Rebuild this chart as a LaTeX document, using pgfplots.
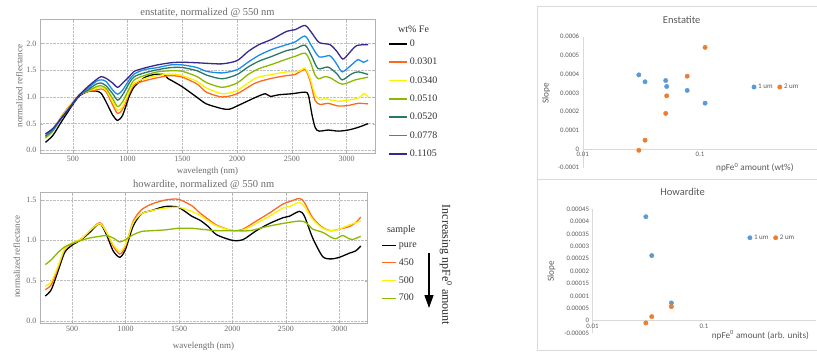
\documentclass[border=0pt]{standalone}
\usepackage{fontspec}
\setmainfont{Liberation Serif}
\newfontfamily\carlito{Carlito}
\usepackage{pgfplots}
\pgfplotsset{compat=1.18}
\usetikzlibrary{arrows.meta}

\definecolor{mOrange}{RGB}{255,104,30}
\definecolor{mYellow}{RGB}{250,242,0}
\definecolor{mGreen}{RGB}{140,184,0}
\definecolor{mTeal}{RGB}{40,120,100}
\definecolor{mBlue}{RGB}{25,140,235}
\definecolor{mPurple}{RGB}{55,40,140}
\definecolor{mText}{RGB}{105,105,105}
\definecolor{xBlue}{RGB}{91,155,213}
\definecolor{xOrange}{RGB}{237,125,49}
\definecolor{xText}{RGB}{89,89,89}
\definecolor{xAxis}{RGB}{217,217,217}

\tikzset{
  mtitle/.style={font=\fontsize{10.5}{12}\selectfont, text=mText, anchor=center, inner sep=0pt},
  xtitle/.style={font=\carlito\fontsize{10.5}{12}\selectfont, text=xText, anchor=center, inner sep=0pt},
}

\pgfplotsset{
  mstyle/.style={
    scale only axis, xmin=200, xmax=3260,
    grid=major, grid style={densely dotted, gray!50},
    axis line style={gray!60}, tick style={gray!60}, major tick length=2.5pt,
    /pgf/number format/assume math mode=true,
    /pgf/number format/1000 sep={},
    ticklabel style={font=\fontsize{8}{9}\selectfont, text=mText},
    yticklabel style={/pgf/number format/.cd, fixed, fixed zerofill, precision=1},
    xtick={500,1000,...,3000},
    label style={font=\fontsize{9}{10}\selectfont, text=mText},
    clip=false,
    legend cell align=left,
    legend style={draw=none, fill=none, inner sep=0pt,
      font=\fontsize{10}{12}\selectfont, text=black!80,
      row sep=6.2pt, anchor=north west},
  },
  mline/.style={line width=1.3pt, smooth, tension=0.45, no markers},
  xstyle/.style={
    scale only axis, xmin=0.01, xmax=1,
    axis x line=middle, axis y line=left,
    axis line style={xAxis, -}, major tick length=0pt, minor tick length=0pt,
    scaled ticks=false,
    hide obscured x ticks=false, hide obscured y ticks=false,
    /pgf/number format/assume math mode=true,
    ticklabel style={font=\carlito\fontsize{6.8}{8}\selectfont, text=xText},
    xtick={0.01,0.1}, xticklabels={0.01,0.1}, minor xtick={},
    label style={font=\carlito\fontsize{9.2}{11}\selectfont, text=xText},
    clip=false,
    legend columns=2,
    legend style={draw=none, fill=none, inner sep=0pt,
      font=\carlito\fontsize{7}{8}\selectfont, text=xText,
      anchor=west, /tikz/every even column/.style={column sep=3pt}},
  },
  xmark/.style={only marks, mark=*, mark size=2.2pt,
    mark options={draw=none},
    legend image code/.code={\draw[mark repeat=2,mark phase=2,##1] plot coordinates {(0pt,0pt)(3pt,0pt)(6pt,0pt)};}},
}

\begin{document}
\begin{tikzpicture}
\useasboundingbox (0pt,0pt) rectangle (817pt,354pt);

% ---------------- enstatite spectra ----------------
\begin{axis}[mstyle, at={(40pt,201pt)}, anchor=south west,
  width=335pt, height=134pt, ymin=-0.05, ymax=2.46,
  ytick={0,0.5,1,1.5,2},
  xlabel={wavelength (nm)},
  xlabel style={at={(axis description cs:0.5,-0.14)}, anchor=center, inner sep=0pt},
  ylabel={normalized reflectance},
  ylabel style={at={(axis description cs:-0.062,0.5)}, anchor=center},
  legend style={at={(axis description cs:1.039,0.862)}},
  legend image code/.code={\draw[#1, line width=1.5pt, sharp plot] (0pt,0pt) -- (18pt,0pt);},
]
\addplot[mline, black] coordinates {(250,0.15) (318,0.28) (394,0.53) (455,0.72) (500,0.86) (561,1.02) (636,1.10) (712,1.11) (758,1.07) (803,0.91) (864,0.66) (909,0.56) (955,0.66) (1015,1.01) (1061,1.19) (1152,1.36) (1242,1.42) (1335,1.42) (1365,1.35) (1400,1.31) (1500,1.19) (1636,0.99) (1720,0.87) (1864,0.78) (1930,0.77) (2000,0.83) (2167,0.99) (2258,1.06) (2303,1.01) (2379,1.04) (2500,1.06) (2621,1.09) (2652,1.03) (2685,0.66) (2715,0.42) (2750,0.36) (2833,0.38) (2924,0.36) (3015,0.38) (3106,0.43) (3197,0.50)};
\addlegendentry{0}
\addplot[mline, mOrange] coordinates {(250,0.25) (318,0.38) (394,0.63) (455,0.80) (500,0.90) (561,1.04) (636,1.10) (712,1.13) (758,1.15) (803,1.10) (864,0.85) (909,0.69) (955,0.77) (1015,1.07) (1061,1.23) (1152,1.30) (1273,1.36) (1394,1.40) (1500,1.37) (1636,1.24) (1720,1.09) (1864,1.00) (2000,1.06) (2167,1.26) (2318,1.35) (2455,1.40) (2530,1.42) (2621,1.51) (2667,1.30) (2712,0.94) (2758,0.86) (2833,0.88) (2924,0.83) (3015,0.84) (3106,0.88) (3197,0.87)};
\addlegendentry{0.0301}
\addplot[mline, mYellow] coordinates {(250,0.27) (318,0.37) (394,0.62) (455,0.79) (500,0.89) (561,1.04) (636,1.11) (712,1.16) (758,1.18) (803,1.13) (864,0.91) (909,0.75) (955,0.82) (1015,1.10) (1061,1.26) (1152,1.34) (1273,1.40) (1394,1.43) (1500,1.40) (1636,1.29) (1720,1.17) (1864,1.06) (2000,1.12) (2167,1.35) (2318,1.42) (2455,1.47) (2530,1.47) (2576,1.49) (2621,1.54) (2667,1.35) (2712,1.04) (2758,0.95) (2803,0.97) (2864,0.94) (2924,0.92) (3015,0.94) (3106,0.98) (3161,1.06) (3197,1.00)};
\addlegendentry{0.0340}
\addplot[mline, mGreen] coordinates {(250,0.23) (318,0.36) (394,0.60) (455,0.77) (500,0.88) (561,1.04) (636,1.11) (712,1.19) (758,1.21) (803,1.16) (864,0.97) (909,0.82) (955,0.91) (1015,1.16) (1061,1.32) (1152,1.40) (1273,1.47) (1394,1.49) (1500,1.48) (1636,1.38) (1720,1.27) (1864,1.18) (2000,1.26) (2100,1.42) (2200,1.53) (2318,1.61) (2455,1.71) (2530,1.76) (2621,1.82) (2667,1.67) (2710,1.42) (2745,1.34) (2800,1.38) (2850,1.36) (2960,1.24) (3080,1.32) (3197,1.37)};
\addlegendentry{0.0510}
\addplot[mline, mTeal] coordinates {(250,0.27) (318,0.38) (394,0.60) (455,0.76) (500,0.88) (561,1.04) (636,1.13) (712,1.24) (758,1.26) (803,1.21) (864,1.06) (909,0.94) (955,1.04) (1015,1.26) (1061,1.38) (1152,1.45) (1273,1.51) (1394,1.55) (1500,1.55) (1636,1.49) (1720,1.41) (1864,1.34) (2000,1.42) (2100,1.56) (2200,1.67) (2318,1.76) (2455,1.87) (2530,1.90) (2621,1.97) (2682,1.76) (2740,1.53) (2830,1.56) (2909,1.44) (2961,1.32) (3045,1.43) (3106,1.47) (3197,1.42)};
\addlegendentry{0.0520}
\addplot[mline, mBlue] coordinates {(250,0.30) (318,0.39) (394,0.60) (455,0.76) (500,0.88) (561,1.04) (636,1.16) (712,1.29) (758,1.32) (803,1.29) (864,1.13) (909,1.05) (955,1.13) (1015,1.32) (1061,1.43) (1152,1.51) (1273,1.55) (1394,1.60) (1500,1.60) (1636,1.55) (1720,1.48) (1864,1.45) (2000,1.51) (2100,1.65) (2200,1.78) (2318,1.89) (2455,1.98) (2530,2.03) (2621,2.14) (2682,1.95) (2750,1.75) (2848,1.77) (2909,1.62) (2961,1.47) (3045,1.60) (3106,1.70) (3152,1.65) (3197,1.69)};
\addlegendentry{0.0778}
\addplot[mline, mPurple] coordinates {(250,0.31) (318,0.41) (394,0.60) (455,0.75) (500,0.88) (561,1.04) (636,1.19) (712,1.32) (758,1.38) (803,1.35) (864,1.26) (909,1.18) (955,1.26) (1015,1.38) (1061,1.48) (1152,1.54) (1273,1.60) (1394,1.64) (1500,1.65) (1636,1.64) (1720,1.63) (1864,1.62) (2000,1.68) (2100,1.85) (2200,1.98) (2318,2.08) (2455,2.23) (2530,2.26) (2621,2.34) (2682,2.20) (2750,2.02) (2848,1.98) (2909,1.86) (2965,1.71) (3015,1.80) (3091,1.96) (3197,1.98)};
\addlegendentry{0.1105}
\node[font=\fontsize{10}{12}\selectfont, text=black!80] at (axis description cs:1.115,0.925) {wt\% Fe};
\node[mtitle] at (axis description cs:0.5,1.045) {enstatite, normalized @ 550 nm};
\end{axis}

% ---------------- howardite spectra ----------------
\begin{axis}[mstyle, at={(40pt,31pt)}, anchor=south west,
  width=327.2pt, height=131pt, ymin=-0.025, ymax=1.6,
  ytick={0,0.5,1,1.5},
  xlabel={wavelength (nm)},
  xlabel style={at={(axis description cs:0.5,-0.181)}, anchor=center, inner sep=0pt},
  ylabel={normalized reflectance},
  ylabel style={at={(axis description cs:-0.071,0.506)}, anchor=center},
  legend style={at={(axis description cs:1.043,0.632)}, row sep=5.8pt},
  legend image code/.code={\draw[#1, line width=1.5pt, sharp plot] (0pt,0pt) -- (14pt,0pt);},
]
\addplot[mline, black] coordinates {(250,0.31) (306,0.39) (369,0.62) (431,0.85) (500,0.94) (587,1.01) (666,1.10) (759,1.21) (822,1.07) (884,0.87) (947,0.79) (1000,0.89) (1072,1.18) (1150,1.33) (1244,1.37) (1369,1.42) (1494,1.41) (1619,1.30) (1696,1.25) (1775,1.17) (1851,1.07) (2000,1.00) (2099,1.01) (2223,1.12) (2347,1.21) (2471,1.28) (2533,1.30) (2626,1.36) (2673,1.30) (2750,1.03) (2843,0.80) (2921,0.77) (3000,0.79) (3091,0.84) (3153,0.87) (3200,0.93)};
\addlegendentry{pure}
\addplot[mline, mOrange] coordinates {(250,0.39) (306,0.45) (369,0.66) (431,0.89) (500,0.96) (587,1.02) (666,1.12) (759,1.22) (822,1.10) (884,0.93) (947,0.83) (1000,0.93) (1072,1.24) (1150,1.38) (1244,1.45) (1369,1.50) (1494,1.51) (1619,1.43) (1696,1.34) (1775,1.26) (1851,1.19) (2000,1.12) (2099,1.14) (2223,1.24) (2347,1.34) (2471,1.45) (2533,1.48) (2626,1.52) (2673,1.47) (2750,1.28) (2843,1.16) (2921,1.12) (3000,1.14) (3091,1.17) (3153,1.22) (3200,1.29)};
\addlegendentry{450}
\addplot[mline, mYellow] coordinates {(250,0.43) (306,0.49) (369,0.68) (431,0.90) (500,0.97) (587,1.02) (666,1.12) (759,1.21) (822,1.10) (884,0.95) (947,0.86) (1000,0.95) (1072,1.22) (1150,1.33) (1244,1.37) (1369,1.40) (1494,1.41) (1619,1.36) (1696,1.31) (1775,1.24) (1851,1.18) (2000,1.12) (2099,1.13) (2223,1.21) (2347,1.30) (2471,1.40) (2533,1.42) (2626,1.47) (2673,1.42) (2750,1.26) (2843,1.15) (2921,1.12) (3000,1.14) (3091,1.19) (3200,1.24)};
\addlegendentry{500}
\addplot[mline, mGreen] coordinates {(250,0.70) (306,0.76) (369,0.85) (431,0.92) (500,0.96) (587,1.00) (666,1.03) (759,1.05) (822,1.06) (884,1.03) (947,0.98) (1000,1.01) (1072,1.07) (1150,1.11) (1244,1.12) (1369,1.13) (1494,1.15) (1619,1.15) (1696,1.14) (1851,1.12) (2000,1.12) (2161,1.12) (2316,1.17) (2471,1.21) (2626,1.24) (2688,1.22) (2750,1.14) (2843,1.10) (2921,1.04) (2967,1.02) (3029,1.06) (3091,1.02) (3122,1.01) (3200,1.05)};
\addlegendentry{700}
\node[font=\fontsize{10}{12}\selectfont, text=black!80] at (axis description cs:1.104,0.71) {sample};
\node[mtitle] at (axis description cs:0.5,1.058) {howardite, normalized @ 550 nm};
\end{axis}

\draw[line width=1.3pt, -{Triangle[length=13pt,width=9pt]}] (429pt,101pt) -- (429pt,46pt);
\node[rotate=-90, font=\fontsize{12}{14}\selectfont, text=black!85] at (446pt,89pt) {Increasing npFe\textsuperscript{0} amount};

% ---------------- frames of the right-hand charts ----------------
\draw[xAxis, line width=0.8pt] (818pt,348pt) -- (537pt,348pt) -- (537pt,4pt) -- (818pt,4pt);
\draw[xAxis, line width=0.8pt] (537pt,174.7pt) -- (818pt,174.7pt);

% ---------------- Enstatite slopes ----------------
\begin{axis}[xmode=log, xstyle, at={(582.7pt,186.3pt)}, anchor=south west,
  width=234.6pt, height=131pt, ymin=-0.0001, ymax=0.0006,
  ytick={-0.0001,0,0.0001,0.0002,0.0003,0.0004,0.0005,0.0006},
  yticklabels={-0.0001,0,0.0001,0.0002,0.0003,0.0004,0.0005,0.0006},
  xlabel={npFe\textsuperscript{0} amount (wt\%)},
  xlabel style={at={(axis description cs:0.734,0.0)}, anchor=center},
  ylabel={Slope},
  ylabel style={at={(axis description cs:-0.156,0.57)}, anchor=center, rotate=0},
  legend style={at={(axis description cs:0.72,0.616)}},
]
\addplot[xmark, xBlue] coordinates {(0.0301,0.000396) (0.034,0.000359) (0.051,0.000366) (0.052,0.000334) (0.0778,0.000313) (0.1105,0.000245)};
\addlegendentry{1 um}
\addplot[xmark, xOrange] coordinates {(0.0301,-0.000007) (0.034,0.000047) (0.051,0.00019) (0.052,0.000284) (0.0778,0.000389) (0.1105,0.000543)};
\addlegendentry{2 um}
\node[xtitle] at (axis description cs:0.422,1.127) {Enstatite};
\end{axis}

% ---------------- Howardite slopes ----------------
\begin{axis}[xmode=log, xstyle, at={(592.5pt,21pt)}, anchor=south west,
  width=223pt, height=123.7pt, ymin=-0.00005, ymax=0.00045,
  ytick={-0.00005,0,0.00005,0.0001,0.00015,0.0002,0.00025,0.0003,0.00035,0.0004,0.00045},
  yticklabels={-0.00005,0,0.00005,0.0001,0.00015,0.0002,0.00025,0.0003,0.00035,0.0004,0.00045},
  xlabel={npFe\textsuperscript{0} amount (arb. units)},
  xlabel style={at={(axis description cs:0.753,-0.02)}, anchor=center},
  ylabel={Slope},
  ylabel style={at={(axis description cs:-0.184,0.496)}, anchor=center, rotate=0},
  legend style={at={(axis description cs:0.695,0.77)}},
]
\addplot[xmark, xBlue] coordinates {(0.0301,0.00042) (0.034,0.000263) (0.051,0.0000716)};
\addlegendentry{1 um}
\addplot[xmark, xOrange] coordinates {(0.0301,-0.0000093) (0.034,0.0000162) (0.051,0.0000566)};
\addlegendentry{2 um}
\node[xtitle] at (axis description cs:0.404,1.137) {Howardite};
\end{axis}
\end{tikzpicture}
\end{document}
